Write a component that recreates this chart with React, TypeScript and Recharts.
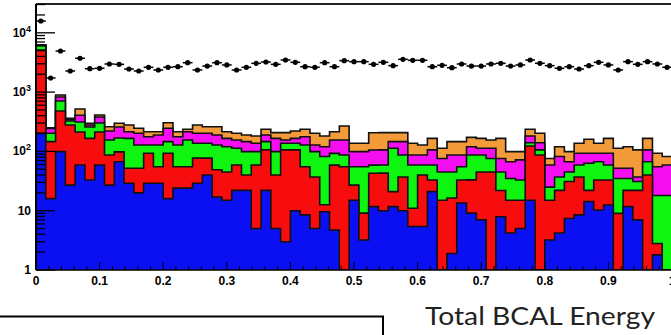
import React from 'react';
import { ComposedChart, Area, Scatter, XAxis, YAxis, ReferenceLine, ErrorBar } from 'recharts';

// ---- data (65 bins over 0..1) ----
const blue = [204,16,99,27,59,33,59,27,67,29,20,29,29,16,24,24,29,40,17,15,22,22,5,22,5,3,10,
  8.5,5,9.6,4.7,0,15,3.2,11.7,10,11.7,10,5.4,5.4,21,0,1.9,13.5,9.1,7,0,7.9,4.2,5,15,0,3.2,4.2,7.4,8.5,14.2,10.3,12.5,0,11.7,7,0,1.8,0];
const red = [4900,130,381,252,153,133,153,60,31,23,32,64,26,77,31,31,48,37,32,30,37,18,54,84,35,103,96,
  46.5,32,3,54,55,12,5.9,31,33,9.3,27,5.6,34.6,12,15,14.5,19.5,24,38,45,14,10.8,10,108,87,11.8,17.8,23.6,28.5,7.8,22.7,20.5,9,10.3,15,40,1,0];
const green = [1100,56,228,47,101,92,89,69,70,114,76,35,73,53,73,101,60,60,79,75,54,59,40,40,59,31,31,
  73,62,69.5,34,32,28,46,16,16,92,50,48,19,26,30,28.6,22,54,42,31,23,20,18,17,19,10,15,14,22,41,34,26,26,13,9,27,15.2,18];
const magenta = [0,42,119,19,93,21,79,65,90,49,74,49,61,99,49,59,65,65,61,46,43,47,38,43,67,19,29,
  49,29,38,63,69,44,44,47,47,33,59,28,28,47,31,42,32,33,26,37,31,32,39,42,34,34,45,22,34,30,26,34,17,17,6,39,37,41];
const orange = [0,7,66,16,113,19,31,40,40,64,43,38,26,60,38,21,77,59,72,49,46,43,45,47,41,51,55,
  59,74,62,59,112,38,38,101,101,61,61,50,41,60,37,59,59,52,53,43,90,32,27,54,62,17,38,32,44,67,44,73,61,68,69,60,38,23];
const dataPoints = [15800,1730,4930,2270,3720,2480,2520,2980,2940,2450,2270,2620,2360,2620,2680,3130,2360,2750,3130,2870,
  2360,2620,3060,3220,2940,3480,3180,2680,2620,3130,2680,3390,3260,3260,2940,3180,2790,3570,3440,3440,
  2680,2830,2580,2980,2750,2750,2980,3060,2750,2870,3480,3060,2790,2520,2680,2450,2790,3180,2870,2360,
  3260,2940,3260,2980,2620];

const xTicks = Array.from({ length: 51 }, (_, i) => i / 50);
const yTicks: number[] = [];
for (let e = 0; e < 4; e++) for (let m = 1; m < 10; m++) yTicks.push(m * Math.pow(10, e));
yTicks.push(10000, 20000, 30000);
const Y_MIN = 1;
const Y_MAX = 30600;
const xTitle = 'Total BCAL Energy';

const COLORS = { blue: '#0a10f2', red: '#f70d0d', green: '#10f510', magenta: '#f50ff0', orange: '#f39a3a' };

// ---- derived tables ----
const NB = blue.length;
const edgeRows = Array.from({ length: NB + 1 }, (_, i) => {
  const k = Math.min(i, NB - 1);
  const b = blue[k];
  const r = b + red[k];
  const g = r + green[k];
  const m = g + magenta[k];
  const o = m + orange[k];
  return {
    x: i / NB,
    b: Math.max(b, Y_MIN),
    r: Math.max(r, Y_MIN),
    g: Math.max(g, Y_MIN),
    m: Math.max(m, Y_MIN),
    o: Math.max(o, Y_MIN),
  };
});
const pointRows = dataPoints.map((v, i) => ({
  x: (i + 0.5) / NB,
  y: v,
  ex: 0.5 / NB,
  ey: Math.sqrt(v),
}));

const FONT = "'Liberation Sans', Arial, Helvetica, sans-serif";

const YTick = (props: any) => {
  const { x, y, payload } = props;
  const v = payload.value as number;
  const exp = Math.round(Math.log10(v));
  const major = Math.abs(v - Math.pow(10, exp)) < 1e-6 * v;
  const len = major ? 19 : 9;
  return (
    <g>
      <line x1={x} y1={y} x2={x + len} y2={y} stroke="#000" strokeWidth={1.3} />
      {major && (
        <text x={x - 5} y={y + 4} textAnchor="end" fontSize={12} fontWeight="bold" fontFamily={FONT} fill="#000">
          {exp <= 1 ? (
            String(v)
          ) : (
            <>
              <tspan>10</tspan>
              <tspan dy={-5} fontSize={9}>{exp}</tspan>
            </>
          )}
        </text>
      )}
    </g>
  );
};

const XTick = (props: any) => {
  const { x, y, payload } = props;
  const v = payload.value as number;
  const major = Math.abs(v * 10 - Math.round(v * 10)) < 1e-6;
  return (
    <g>
      <line x1={x} y1={y} x2={x} y2={y - (major ? 8 : 4)} stroke="#000" strokeWidth={1} />
      {major && (
        <text x={x} y={y + 15} textAnchor="middle" fontSize={12} fontWeight="bold" fontFamily={FONT} fill="#000">
          {String(Math.round(v * 10) / 10)}
        </text>
      )}
    </g>
  );
};

const Dot = (props: any) => {
  const { cx, cy } = props;
  if (cx == null || cy == null) return null;
  return <circle cx={cx} cy={cy} r={2.6} fill="#000" />;
};

export default function App() {
  const areaCommon = {
    type: 'stepAfter' as const,
    stroke: '#111',
    strokeWidth: 1.6,
    fillOpacity: 1,
    isAnimationActive: false,
    dot: false,
    activeDot: false,
  };
  return (
    <div style={{ position: 'absolute', left: 0, top: 0, width: 671, height: 335, overflow: 'hidden', background: '#fff' }}>
      <ComposedChart width={700} height={335} data={edgeRows} margin={{ top: 4, right: 28, bottom: 0, left: 0 }}>
        <Area dataKey="o" fill={COLORS.orange} {...areaCommon} />
        <Area dataKey="m" fill={COLORS.magenta} {...areaCommon} />
        <Area dataKey="g" fill={COLORS.green} {...areaCommon} />
        <Area dataKey="r" fill={COLORS.red} {...areaCommon} />
        <Area dataKey="b" fill={COLORS.blue} {...areaCommon} />
        <XAxis
          dataKey="x"
          type="number"
          domain={[0, 1]}
          allowDataOverflow
          ticks={xTicks}
          interval={0}
          height={65}
          tickSize={0}
          tickMargin={0}
          tickLine={false}
          axisLine={{ stroke: '#000', strokeWidth: 1.5 }}
          tick={<XTick />}
        />
        <YAxis
          type="number"
          scale="log"
          domain={[Y_MIN, Y_MAX]}
          allowDataOverflow
          ticks={yTicks}
          interval={0}
          width={36}
          tickSize={0}
          tickMargin={0}
          tickLine={false}
          axisLine={{ stroke: '#000', strokeWidth: 2 }}
          tick={<YTick />}
        />
        <ReferenceLine y={Y_MAX} stroke="#222" strokeWidth={2} ifOverflow="visible" />
        <ReferenceLine x={1} stroke="#222" strokeWidth={2} ifOverflow="visible" />
        <Scatter data={pointRows} dataKey="y" shape={<Dot />} isAnimationActive={false}>
          <ErrorBar dataKey="ex" direction="x" width={0} stroke="#000" strokeWidth={1.5} isAnimationActive={false} />
          <ErrorBar dataKey="ey" direction="y" width={0} stroke="#000" strokeWidth={1.5} isAnimationActive={false} />
        </Scatter>
      </ComposedChart>
      <svg width={671} height={335} style={{ position: 'absolute', left: 0, top: 0, pointerEvents: 'none' }}>
        <line x1={0} y1={316.5} x2={384} y2={316.5} stroke="#000" strokeWidth={2} />
        <line x1={383} y1={316} x2={383} y2={335} stroke="#000" strokeWidth={2} />
        <text x={425} y={325} fontSize={25} fontFamily="Lato, 'Open Sans', sans-serif" fill="#222" textLength={230} lengthAdjust="spacingAndGlyphs">
          {xTitle}
        </text>
      </svg>
    </div>
  );
}
